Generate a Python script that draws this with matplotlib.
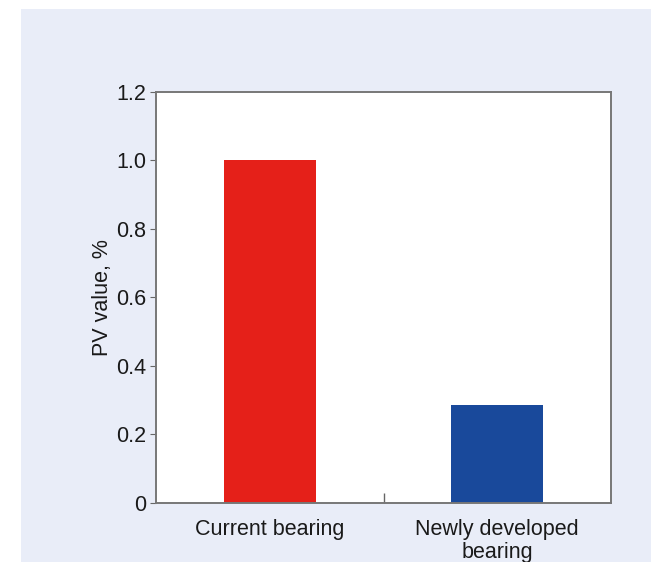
import matplotlib
matplotlib.use("Agg")
import matplotlib.pyplot as plt
from matplotlib.patches import Rectangle

categories = ["Current bearing", "Newly developed\nbearing"]
pv_values = [1.0, 0.285]
bar_colors = ["#e52019", "#19499b"]
yticks = [0, 0.2, 0.4, 0.6, 0.8, 1.0, 1.2]
ytick_labels = ["0", "0.2", "0.4", "0.6", "0.8", "1.0", "1.2"]

plt.rcParams['font.family'] = ['Liberation Sans', 'DejaVu Sans']

fig = plt.figure(figsize=(6.51, 5.62), dpi=100)
fig.patch.set_facecolor("white")
fig.patches.append(Rectangle((21/651, 0), 1 - 21/651, 1 - 9/562,
                             transform=fig.transFigure, facecolor="#e9edf8",
                             edgecolor="none", zorder=-10))

ax = fig.add_axes([156/651, 1 - 502.7/562, (611-156)/651, (502.7-92)/562])
ax.set_facecolor("white")
x = list(range(len(categories)))
ax.bar(x, pv_values, width=0.404, color=bar_colors, zorder=2)
ax.set_xlim(-0.5, 1.5)
ax.set_ylim(0, 1.2)
ax.set_yticks(yticks)
ax.set_yticklabels(ytick_labels, fontsize=15.5, color="#1a1a1a")
ax.set_xticks(x)
ax.set_xticklabels(categories, fontsize=15.5, color="#1a1a1a", linespacing=1.12)
ax.tick_params(axis='x', length=0, pad=12)
ax.set_xticks([0.5], minor=True)
ax.tick_params(axis='x', which='minor', direction='in', length=7, width=1, color="#666666")
ax.tick_params(axis='y', direction='out', length=4, width=0.8, color="#666666", pad=3)
for s in ax.spines.values():
    s.set_color("#777777")
    s.set_linewidth(1.4)
ax.set_ylabel("PV value, %", fontsize=15.5, color="#1a1a1a", labelpad=2)

fig.savefig("out.png", dpi=100, facecolor=fig.get_facecolor())
